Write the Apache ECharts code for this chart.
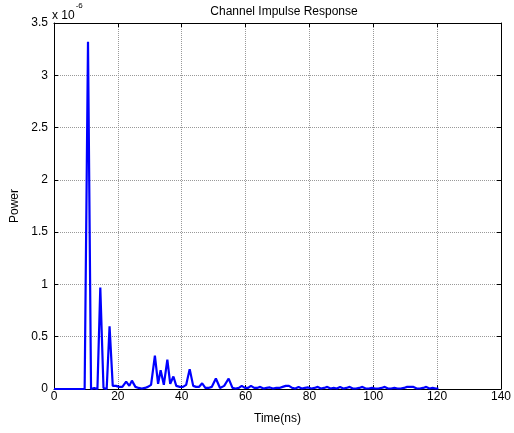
<!DOCTYPE html>
<html>
<head>
<meta charset="utf-8">
<script src="https://cdn.jsdelivr.net/npm/echarts@6/dist/echarts.min.js"></script>
<style>html,body{margin:0;padding:0;background:#fff}#c{width:514px;height:433px}</style>
</head>
<body>
<div id="c"></div>
<script>
// Time in ns
const timeNs = [0, 9.6, 10.65, 11.6, 12.6, 13.6, 14.5, 15.5, 16.5, 17.4, 18.4, 19.4, 20.4, 21.4, 22.6, 23.6, 24.4, 25.5, 26.5, 27.5, 28.5, 29.4, 30.4, 31.6, 32.6, 33.4, 34.4, 35.5, 36.4, 37.4, 38.3, 39.4, 40.4, 41.4, 42.5, 43.6, 44.5, 45.4, 46.4, 47.4, 48.4, 49.4, 50.7, 52.0, 53.3, 54.7, 55.9, 56.9, 57.9, 58.8, 59.8, 60.8, 61.7, 62.7, 63.6, 64.6, 65.6, 66.6, 67.6, 68.6, 69.6, 70.6, 71.6, 72.6, 73.6, 74.6, 75.6, 76.6, 77.6, 78.6, 79.6, 80.6, 81.6, 82.6, 83.6, 84.6, 85.6, 86.6, 87.6, 88.6, 89.6, 90.6, 91.6, 92.6, 93.6, 94.6, 95.6, 96.6, 97.6, 98.6, 99.6, 100.6, 101.6, 102.6, 103.6, 104.6, 105.6, 106.6, 107.6, 108.6, 109.6, 110.6, 111.6, 112.6, 113.6, 114.6, 115.6, 116.6, 117.6, 118.6, 119.6, 120.4];
// Power in units of 1e-6
const powerE6 = [0, 0, 3.32, 0, 0.01, 0, 0.97, 0.01, 0, 0.6, 0.03, 0.03, 0.02, 0.02, 0.07, 0.03, 0.08, 0.02, 0.01, 0.005, 0.01, 0.02, 0.04, 0.32, 0.05, 0.18, 0.04, 0.28, 0.05, 0.12, 0.03, 0.02, 0.02, 0.04, 0.19, 0.03, 0.02, 0.02, 0.055, 0.01, 0.01, 0.02, 0.1, 0.01, 0.03, 0.1, 0.01, 0.005, 0.01, 0.03, 0.01, 0.01, 0.03, 0.01, 0.01, 0.02, 0.005, 0.01, 0.015, 0.005, 0.01, 0.01, 0.02, 0.03, 0.03, 0.01, 0.005, 0.02, 0.005, 0.01, 0.015, 0.005, 0.01, 0.02, 0.005, 0.01, 0.02, 0.005, 0.01, 0.005, 0.02, 0.005, 0.01, 0.02, 0.005, 0.005, 0.01, 0.02, 0.005, 0.005, 0.01, 0.005, 0.005, 0.01, 0.02, 0.005, 0.005, 0.01, 0.005, 0.005, 0.01, 0.02, 0.02, 0.02, 0.005, 0.005, 0.01, 0.02, 0.005, 0.01, 0.005, 0.005];
const xTicks = [0, 20, 40, 60, 80, 100, 120, 140];
const yTicks = [0, 0.5, 1, 1.5, 2, 2.5, 3, 3.5];

const FONT = 'Liberation Sans, Arial, sans-serif';
const chart = echarts.init(document.getElementById('c'), null, {renderer: 'canvas'});
const grid = {left: 54, right: 9, top: 23, bottom: 44};
const pairs = timeNs.map((t, i) => [t, powerE6[i]]);
const tickStyle = {show: true, inside: true, length: 4, lineStyle: {color: '#000', width: 1}};
const split = {show: true, lineStyle: {color: '#999', type: [1, 1], width: 1}};

chart.setOption({
  animation: false,
  backgroundColor: '#fff',
  title: {
    text: 'Channel Impulse Response', left: 279, top: 1, textAlign: 'center',
    textStyle: {fontFamily: FONT, fontSize: 12, fontWeight: 'normal', color: '#000'}
  },
  graphic: [{
    type: 'text', left: 52, top: 2,
    style: {
      text: '{a|x 10}{b|-6}',
      rich: {
        a: {fontFamily: FONT, fontSize: 12, color: '#000', padding: [8, 0, 0, 0]},
        b: {fontFamily: FONT, fontSize: 8, color: '#000', verticalAlign: 'top', padding: [0, 0, 8, 1]}
      }
    }
  }],
  grid: grid,
  xAxis: [{
    type: 'value', min: 0, max: 140, interval: 20,
    name: 'Time(ns)', nameLocation: 'middle', nameGap: 24,
    nameTextStyle: {fontFamily: FONT, fontSize: 12, color: '#000'},
    axisLine: {show: true, onZero: false, lineStyle: {color: '#000', width: 1}},
    axisTick: tickStyle,
    axisLabel: {fontFamily: FONT, fontSize: 12, color: '#000', margin: 2,
      formatter: v => xTicks.includes(v) ? String(v) : ''},
    splitLine: split
  }, {
    type: 'value', min: 0, max: 140, interval: 20, position: 'top',
    axisLine: {show: true, onZero: false, lineStyle: {color: '#000', width: 1}},
    axisTick: tickStyle, axisLabel: {show: false}, splitLine: {show: false}
  }],
  yAxis: [{
    type: 'value', min: 0, max: 3.5, interval: 0.5,
    name: 'Power', nameLocation: 'middle', nameGap: 31, nameRotate: 90,
    nameTextStyle: {fontFamily: FONT, fontSize: 12, color: '#000'},
    axisLine: {show: true, onZero: false, lineStyle: {color: '#000', width: 1}},
    axisTick: tickStyle,
    axisLabel: {fontFamily: FONT, fontSize: 12, color: '#000', margin: 6,
      formatter: v => { const r = Math.round(v * 10) / 10; return yTicks.includes(r) ? String(r) : ''; }},
    splitLine: split
  }, {
    type: 'value', min: 0, max: 3.5, interval: 0.5, position: 'right',
    axisLine: {show: true, onZero: false, lineStyle: {color: '#000', width: 1}},
    axisTick: tickStyle, axisLabel: {show: false}, splitLine: {show: false}
  }],
  series: [{
    type: 'line', data: pairs, xAxisIndex: 0, yAxisIndex: 0,
    showSymbol: false, symbol: 'none',
    lineStyle: {color: '#0000ff', width: 2.2},
    itemStyle: {color: '#0000ff'},
    z: 5
  }]
});
</script>
</body>
</html>
